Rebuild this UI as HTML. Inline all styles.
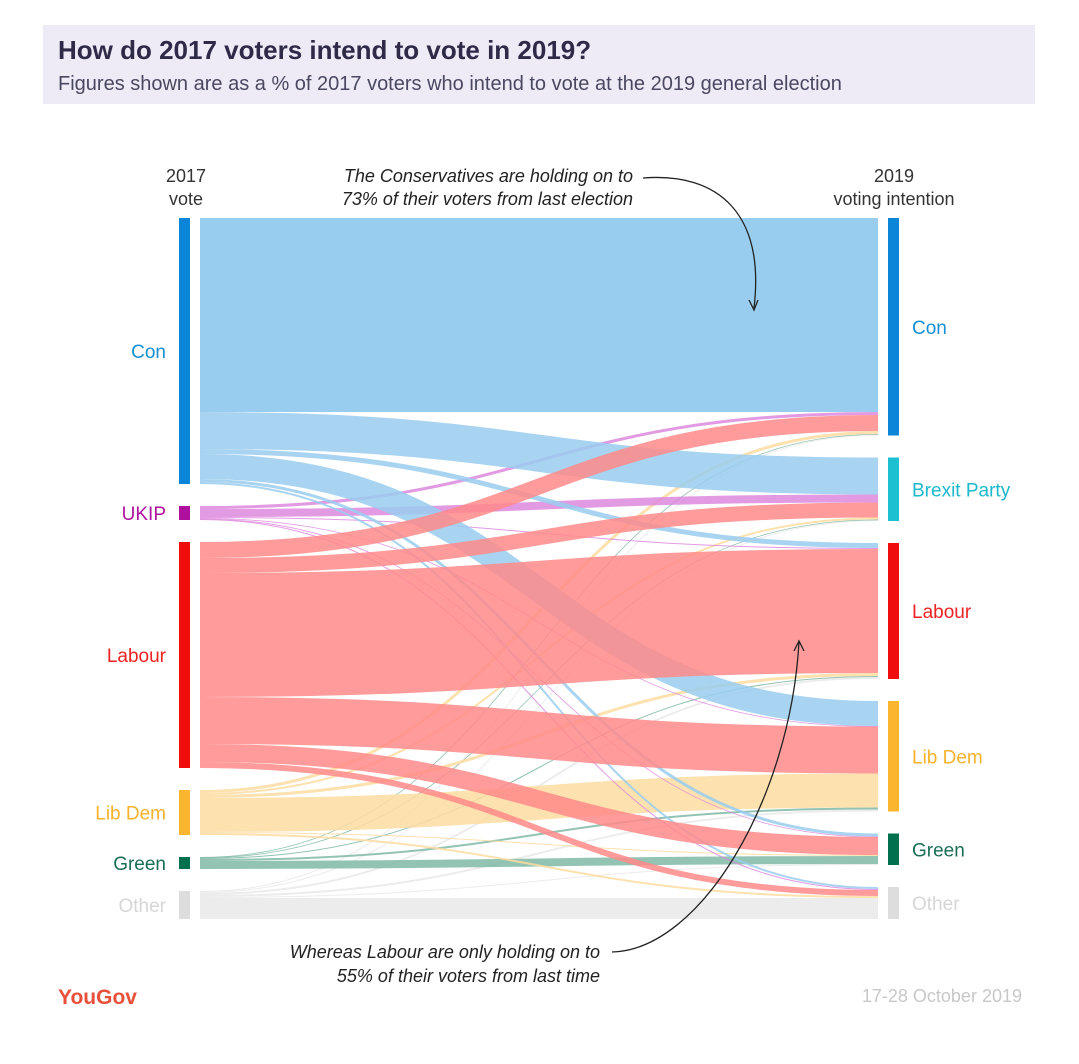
<!DOCTYPE html>
<html><head><meta charset="utf-8">
<style>
body{margin:0;background:#fff;font-family:"Liberation Sans",sans-serif;}
#wrap{position:relative;width:1079px;height:1064px;overflow:hidden;}
</style></head>
<body>
<div id="wrap">
<svg id="svg" width="1079" height="1064" xmlns="http://www.w3.org/2000/svg">
<rect x="43" y="25" width="992" height="79" fill="#efebf6"/>
<text x="58" y="59" font-size="26" font-weight="bold" fill="#2e2a48">How do 2017 voters intend to vote in 2019?</text>
<text x="58" y="90" font-size="20" fill="#4a4860">Figures shown are as a % of 2017 voters who intend to vote at the 2019 general election</text>
<text x="186" y="182" font-size="18" fill="#333" text-anchor="middle">2017</text>
<text x="186" y="205" font-size="18" fill="#333" text-anchor="middle">vote</text>
<text x="894" y="182" font-size="18" fill="#333" text-anchor="middle">2019</text>
<text x="894" y="205" font-size="18" fill="#333" text-anchor="middle">voting intention</text>
<g id="flows"></g>
<g id="nodes"></g>
<text x="633" y="182" font-size="18" font-style="italic" fill="#222" text-anchor="end">The Conservatives are holding on to</text>
<text x="633" y="205" font-size="18" font-style="italic" fill="#222" text-anchor="end">73% of their voters from last election</text>
<path d="M643,178 C720,172 765,215 754,308" fill="none" stroke="#222" stroke-width="1.3"/>
<path d="M749,300 L754,310 L758,300" fill="none" stroke="#222" stroke-width="1.3"/>
<text x="600" y="958" font-size="18" font-style="italic" fill="#222" text-anchor="end">Whereas Labour are only holding on to</text>
<text x="600" y="982" font-size="18" font-style="italic" fill="#222" text-anchor="end">55% of their voters from last time</text>
<path d="M612,952 C700,950 790,800 799,642" fill="none" stroke="#222" stroke-width="1.3"/>
<path d="M794,651 L799,641 L804,651" fill="none" stroke="#222" stroke-width="1.3"/>
<text x="58" y="1004" font-size="21" font-weight="bold" fill="#e8503a">YouGov</text>
<text x="1022" y="1002" font-size="18" fill="#c8c8c8" text-anchor="end">17-28 October 2019</text>
</svg>
</div>
<script>
const parties = ["Con","UKIP","Labour","Lib Dem","Green","Other"];
const targets = ["Con","Brexit Party","Labour","Lib Dem","Green","Other"];
const fromCon = [194, 37, 5, 25, 3, 2];
const fromUkip = [3, 8, 1, 0.5, 0.5, 1];
const fromLab = [16, 15, 124, 47, 18, 6];
const fromLd = [3, 2, 3, 34, 1, 2];
const fromGreen = [0.5, 0.5, 1, 2, 8, 0];
const fromOther = [1, 1, 2, 2, 1, 21];
const matrix = [fromCon, fromUkip, fromLab, fromLd, fromGreen, fromOther];
const srcColors = ["#0a85d8","#b0109e","#f00d0d","#fbb52f","#00704f","#dddddd"];
const flowColors = ["#99cdef","#dd88dd","#ff8a8a","#fddca0","#7fb8a6","#e9e9e9"];
const tgtColors = ["#0a85d8","#1cc0d0","#f00d0d","#fbb52f","#00704f","#dddddd"];
const lblColors = ["#1690d4","#b0109e","#ee2222","#f5b22c","#1a6e56","#d6d6d6"];
const tgtLbl = ["#1690d4","#1cb8cc","#ee2222","#f5b22c","#1a6e56","#d6d6d6"];

const NS="http://www.w3.org/2000/svg";
const top0=218, gap=22, xL=179, xR=888, nw=11, fx0=200, fx1=878;
function mk(t,a){const e=document.createElementNS(NS,t);for(const k in a)e.setAttribute(k,a[k]);return e;}
const srcTot=matrix.map(r=>r.reduce((a,b)=>a+b,0));
const tgtTot=targets.map((_,j)=>matrix.reduce((a,r)=>a+r[j],0));
function layout(tot){let y=top0;return tot.map(v=>{const s=y;y+=v+gap;return s;});}
const sy=layout(srcTot), ty=layout(tgtTot);
const nodes=document.getElementById('nodes'), flows=document.getElementById('flows');
parties.forEach((p,i)=>{
  const r=mk('rect',{x:xL,y:sy[i],width:nw,height:Math.max(srcTot[i],12),fill:srcColors[i]});
  
  
  nodes.appendChild(r);
  const t=mk('text',{x:166,y:sy[i]+Math.max(srcTot[i],12)/2+7,'font-size':19,fill:lblColors[i],'text-anchor':'end'});
  t.textContent=p;
  
  
  nodes.appendChild(t);
});
targets.forEach((p,j)=>{
  const r=mk('rect',{x:xR,y:ty[j],width:nw,height:tgtTot[j],fill:tgtColors[j]});
  
  
  nodes.appendChild(r);
  const t=mk('text',{x:912,y:ty[j]+tgtTot[j]/2+7,'font-size':19,fill:tgtLbl[j]});
  t.textContent=p;
  
  
  nodes.appendChild(t);
});
const sOff=sy.slice();
const order=[5,4,3,1,0,2];
const paths=[];
matrix.forEach((row,i)=>{row.forEach((v,j)=>{
  const a=sOff[i]; sOff[i]+=v;
  paths.push({i,j,v,a,b:0});
});});
const tOff2=ty.slice();
for(let j=0;j<6;j++){for(let i=0;i<6;i++){const p=paths.find(q=>q.i===i&&q.j===j);p.b=tOff2[j];tOff2[j]+=p.v;}}
const mx=(fx0+fx1)/2;
order.forEach(i=>{paths.filter(p=>p.i===i).forEach(p=>{
  if(p.v<=0)return;
  const w=Math.max(p.v,0.8), y0=p.a+w/2, y1=p.b+w/2;
  const e=mk('path',{d:`M${fx0},${y0} C${mx},${y0} ${mx},${y1} ${fx1},${y1}`,fill:'none',stroke:flowColors[i],'stroke-width':w,'stroke-opacity':i===0&&p.j===0?1:0.85});
  
  
  flows.appendChild(e);
});});
</script>
</body></html>
